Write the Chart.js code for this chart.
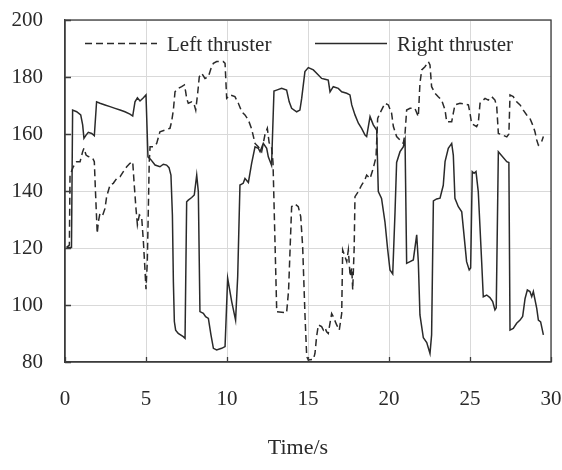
<!DOCTYPE html>
<html>
<head>
<meta charset="utf-8">
<title>Thruster speed</title>
<script src="https://cdn.jsdelivr.net/npm/chart.js@4.4.1/dist/chart.umd.min.js"></script>
<style>
  body { margin: 0; background: #fff; }
  #wrap { width: 562px; height: 470px; }
</style>
</head>
<body>
<div id="wrap"><canvas id="thrusterChart" width="562" height="470"></canvas></div>
<script>
// sampled thruster speed vs time
const leftTime = [0.10, 0.27, 0.31, 0.51, 0.72, 0.93, 1.09, 1.17, 1.30, 1.44, 1.71, 1.81, 1.88, 1.99, 2.06, 2.16, 2.33, 2.47, 2.57, 2.78,
  2.98, 3.19, 3.40, 3.60, 3.81, 4.01, 4.18, 4.26, 4.38, 4.47, 4.59, 4.73, 4.84, 4.94, 5.00, 5.08, 5.20, 5.25, 5.45, 5.66,
  5.86, 6.17, 6.48, 6.58, 6.69, 6.79, 6.99, 7.20, 7.37, 7.45, 7.51, 7.61, 7.82, 7.98, 8.07, 8.19, 8.29, 8.44, 8.64, 8.85,
  9.01, 9.16, 9.36, 9.77, 9.88, 9.98, 10.19, 10.49, 10.70, 10.91, 11.11, 11.32, 11.52, 11.73, 11.93, 12.14, 12.35, 12.49, 12.60, 12.76,
  12.84, 13.07, 13.68, 13.80, 13.99, 14.20, 14.40, 14.55, 14.67, 14.81, 14.92, 15.02, 15.33, 15.43, 15.53, 15.64, 15.84, 15.95, 16.05, 16.15,
  16.25, 16.46, 16.56, 16.77, 16.93, 17.08, 17.14, 17.28, 17.39, 17.49, 17.60, 17.70, 17.76, 17.85, 17.90, 18.11, 18.31, 18.52, 18.62, 18.83,
  19.03, 19.20, 19.30, 19.44, 19.75, 19.96, 20.16, 20.27, 20.47, 20.68, 20.88, 20.99, 21.09, 21.30, 21.60, 21.81, 21.91, 22.02, 22.22, 22.43,
  22.53, 22.63, 22.84, 23.04, 23.25, 23.46, 23.56, 23.87, 23.97, 24.07, 24.38, 24.90, 25.00, 25.10, 25.41, 25.51, 25.62, 25.93, 26.13, 26.34,
  26.54, 26.65, 26.75, 27.27, 27.40, 27.47, 27.67, 27.88, 28.09, 28.29, 28.50, 28.70, 28.91, 29.01, 29.12, 29.22, 29.42, 29.53];
const leftThrust = [120.2, 121, 145.6, 148.5, 150.3, 150.3, 153.8, 155, 152.6, 152.1, 151.5, 150.3, 140, 125.1, 129.2, 132.2, 131.6, 133.9, 138, 142.1,
  142.7, 144.4, 145, 146.8, 148.5, 149.7, 150.3, 143.3, 133.9, 128.1, 131.6, 131, 122.2, 112, 105.5, 115, 150, 155.5, 155.5, 156.7,
  160.8, 161.4, 162, 164.3, 168.4, 174.8, 176, 176.6, 177.2, 174.8, 172.5, 170.8, 171.3, 170.2, 168.4, 174.3, 180.1, 181.3, 179.5, 180.1,
  183, 184.8, 185.4, 185.4, 184.8, 172.5, 173.7, 173.1, 170.8, 167.8, 166.7, 164.9, 161.8, 156.7, 155.5, 153.8, 160, 162, 157, 155,
  150, 97.6, 97.3, 105, 134.5, 135.4, 134.5, 131, 120.5, 97, 81.9, 80.7, 80.9, 83, 88.9, 93, 92.4, 91.2, 92, 90.6,
  90, 97, 95.9, 93, 91.2, 97, 119.3, 117, 115.2, 119.3, 110, 113, 105.3, 120, 138, 139.8, 142.1, 144, 145.6, 144.4,
  148, 152, 165.5, 167.3, 170.8, 170.2, 167.3, 162.6, 159.1, 157.9, 156.7, 160.2, 168.4, 169, 169, 166.1, 177.8, 182.5, 183.6, 185.4,
  184.2, 176.6, 174.3, 173.1, 171.9, 168.4, 164.3, 164.3, 167.3, 170.2, 170.8, 170.2, 167.3, 163.7, 162.6, 163.7, 170.8, 172.5, 171.9, 173.1,
  171.9, 169.6, 160.2, 159, 160, 173.7, 173.1, 171.3, 170.2, 168.4, 166.7, 165.5, 162.6, 160.8, 157.9, 156.1, 157.3, 159.1];

const rightTime = [0.10, 0.40, 0.47, 0.72, 0.97, 1.09, 1.17, 1.30, 1.44, 1.65, 1.81, 1.95, 2.16, 2.47, 2.78, 3.09, 3.40, 3.70, 4.01, 4.18,
  4.32, 4.47, 4.63, 4.84, 5.00, 5.12, 5.30, 5.56, 5.86, 6.07, 6.27, 6.42, 6.54, 6.63, 6.69, 6.75, 6.83, 6.99, 7.30, 7.41,
  7.51, 7.61, 7.82, 7.98, 8.13, 8.23, 8.33, 8.54, 8.68, 8.85, 9.01, 9.16, 9.36, 9.67, 9.88, 10.04, 10.29, 10.53, 10.66, 10.80,
  11.00, 11.11, 11.32, 11.52, 11.73, 11.93, 12.04, 12.24, 12.45, 12.55, 12.65, 12.75, 12.90, 13.06, 13.37, 13.68, 13.84, 13.99, 14.30, 14.50,
  14.61, 14.81, 15.02, 15.33, 15.64, 15.84, 16.05, 16.25, 16.36, 16.56, 16.87, 17.08, 17.39, 17.59, 17.70, 17.90, 18.11, 18.31, 18.52, 18.62,
  18.83, 19.03, 19.24, 19.34, 19.54, 19.75, 19.91, 20.06, 20.23, 20.37, 20.47, 20.68, 20.88, 20.99, 21.09, 21.30, 21.50, 21.71, 21.81, 21.91,
  22.12, 22.33, 22.53, 22.63, 22.74, 22.94, 23.15, 23.35, 23.46, 23.66, 23.87, 23.97, 24.07, 24.28, 24.49, 24.59, 24.79, 24.95, 25.04, 25.14,
  25.25, 25.37, 25.51, 25.62, 25.72, 25.82, 26.03, 26.23, 26.40, 26.54, 26.62, 26.75, 27.27, 27.40, 27.47, 27.67, 27.88, 28.09, 28.25, 28.40,
  28.54, 28.70, 28.81, 28.91, 29.12, 29.22, 29.36, 29.53];
const rightThrust = [120.2, 120.2, 168.4, 167.8, 166.7, 163.2, 158.5, 159.6, 160.6, 160.2, 159.4, 171.3, 170.8, 170.2, 169.6, 169, 168.4, 167.8, 167, 166.3,
  171.3, 172.7, 171.6, 172.7, 173.7, 152, 151, 149.1, 148.5, 149.4, 149.1, 148.2, 145.6, 131.6, 108.2, 94.2, 91.2, 90, 88.9, 88.3,
  136.2, 136.8, 137.7, 138.6, 145.6, 139.8, 97.7, 97.1, 95.9, 95.3, 89.5, 84.8, 84.2, 84.8, 85.4, 109.4, 101.2, 94.7, 110, 142.1,
  142.7, 144.4, 143, 149.7, 155.5, 155, 153.8, 156.7, 155, 152, 150.5, 149, 175.1, 175.4, 176, 175.4, 171.3, 169, 167.8, 168.4,
  172.5, 181.9, 183.3, 182.5, 180.7, 179.5, 179.2, 178.9, 174.8, 176.6, 176, 174.8, 174.3, 173.7, 170.2, 166.7, 163.8, 162, 159.6, 159.1,
  166.1, 163.2, 161.4, 139.8, 137.4, 129.2, 119.9, 112.3, 110.9, 132.3, 150, 153.8, 155.5, 158, 114.6, 115.2, 115.8, 124.6, 115.2, 96.5,
  88.5, 86.8, 83, 89.5, 136.5, 137.2, 137.5, 142, 150.3, 155, 156.7, 152.6, 137.4, 134.5, 132.7, 126.9, 115.2, 112.3, 113, 146.8,
  146.2, 146.8, 139.8, 126.9, 115.2, 102.9, 103.5, 102.6, 101.2, 98.3, 99, 153.8, 150.3, 150, 91.2, 91.8, 93.6, 94.7, 96, 102.3,
  105.3, 104.7, 102.9, 104.7, 98.8, 94.7, 94.1, 89.5];

const seriesNames = ["Left thruster", "Right thruster"];
const xTicks = [0, 5, 10, 15, 20, 25, 30];
const yTicks = [80, 100, 120, 140, 160, 180, 200];
const xTitle = "Time/s";

const ink = "#2a2a2a";
const frame = "#3c3c3c";
const serif = "'Liberation Serif', 'Times New Roman', serif";

function toPoints(times, values) {
  return times.map((t, i) => ({ x: t, y: values[i] }));
}

// box frame, inward ticks, inside legend and x title
const decorations = {
  id: "decorations",
  afterDraw(chart) {
    const { ctx, chartArea: a, scales } = chart;
    ctx.save();

    ctx.strokeStyle = frame;
    ctx.lineWidth = 1.3;
    ctx.setLineDash([]);
    ctx.strokeRect(a.left, a.top, a.right - a.left, a.bottom - a.top);

    ctx.beginPath();
    yTicks.forEach(v => {
      const py = Math.round(scales.y.getPixelForValue(v)) + 0.5;
      ctx.moveTo(a.left, py);
      ctx.lineTo(a.left + 6, py);
    });
    xTicks.forEach(v => {
      const px = Math.round(scales.x.getPixelForValue(v)) + 0.5;
      ctx.moveTo(px, a.bottom);
      ctx.lineTo(px, a.bottom - 5);
    });
    ctx.stroke();

    // legend inside the plot
    const legendX = [85, 315];
    const legendY = 43.5;
    ctx.font = "21px " + serif;
    ctx.fillStyle = ink;
    ctx.textBaseline = "middle";
    chart.data.datasets.forEach((ds, i) => {
      const x0 = legendX[i];
      ctx.strokeStyle = ds.borderColor;
      ctx.lineWidth = ds.borderWidth;
      ctx.setLineDash(ds.borderDash || []);
      ctx.beginPath();
      ctx.moveTo(x0, legendY);
      ctx.lineTo(x0 + 72, legendY);
      ctx.stroke();
      ctx.fillText(ds.label, x0 + 82, legendY + 2);
    });

    ctx.setLineDash([]);
    ctx.font = "22px " + serif;
    ctx.textAlign = "center";
    ctx.fillText(xTitle, 298, 448);
    ctx.restore();
  }
};

new Chart(document.getElementById("thrusterChart"), {
  type: "line",
  data: {
    datasets: [
      {
        label: seriesNames[0],
        data: toPoints(leftTime, leftThrust),
        borderColor: ink,
        borderWidth: 1.5,
        borderDash: [7, 4],
        pointRadius: 0,
        tension: 0,
        fill: false
      },
      {
        label: seriesNames[1],
        data: toPoints(rightTime, rightThrust),
        borderColor: ink,
        borderWidth: 1.5,
        pointRadius: 0,
        tension: 0,
        fill: false
      }
    ]
  },
  options: {
    responsive: false,
    animation: false,
    devicePixelRatio: 1,
    layout: { padding: { top: 20, right: 11, left: 0, bottom: 0 } },
    plugins: {
      legend: { display: false },
      tooltip: { enabled: false }
    },
    scales: {
      x: {
        type: "linear",
        min: 0,
        max: 30,
        afterBuildTicks: scale => { scale.ticks = xTicks.map(v => ({ value: v })); },
        afterFit: scale => {
          scale.height = 108;
          scale.paddingLeft = 0;
          scale.paddingRight = 0;
        },
        ticks: { padding: 25, color: ink, font: { family: serif, size: 21 }, maxRotation: 0 },
        grid: { color: "#d9d9d9", drawTicks: false },
        border: { color: frame, width: 1.3 }
      },
      y: {
        min: 80,
        max: 200,
        afterBuildTicks: scale => { scale.ticks = yTicks.map(v => ({ value: v })); },
        afterFit: scale => {
          scale.width = 65;
          scale.paddingTop = 0;
          scale.paddingBottom = 0;
        },
        ticks: { padding: 22, color: ink, font: { family: serif, size: 21 } },
        grid: { color: "#d9d9d9", drawTicks: false },
        border: { color: frame, width: 1.3 }
      }
    }
  },
  plugins: [decorations]
});
</script>
</body>
</html>
